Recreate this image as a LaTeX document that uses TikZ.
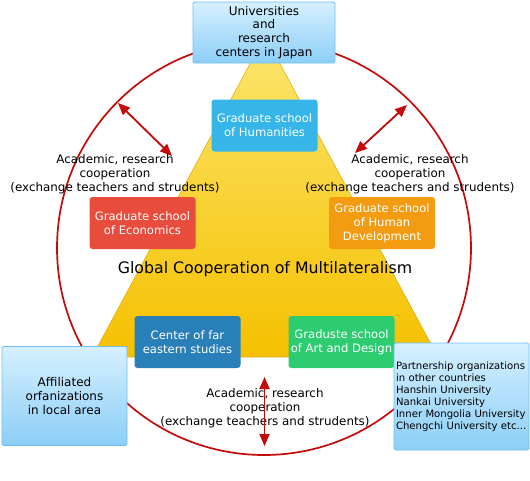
\documentclass[tikz,border=0pt]{standalone}
\usepackage{fontspec}
\setmainfont{DejaVu Sans}
\usetikzlibrary{arrows.meta}
\definecolor{ringred}{RGB}{196,10,10}
\definecolor{triTop}{RGB}{252,230,110}
\definecolor{triBot}{RGB}{245,192,0}
\definecolor{triLine}{RGB}{225,175,20}
\definecolor{boxTop}{RGB}{214,240,255}
\definecolor{boxBot}{RGB}{140,206,247}
\definecolor{boxLine}{RGB}{110,190,240}
\definecolor{cHum}{RGB}{54,181,232}
\definecolor{cEco}{RGB}{231,76,60}
\definecolor{cDev}{RGB}{243,156,18}
\definecolor{cFar}{RGB}{41,128,185}
\definecolor{cArt}{RGB}{46,204,113}
\tikzset{
  bluebox/.style={draw=boxLine, line width=0.8pt, top color=boxTop, bottom color=boxBot,
    rounded corners=1.5pt, font=\fontsize{12}{13.8}\selectfont, align=center, inner sep=2pt},
  school/.style={rounded corners=3pt, text=white, font=\fontsize{11.6}{14}\selectfont,
    align=center, minimum width=106pt, minimum height=52pt, inner sep=1pt},
  coop/.style={font=\fontsize{11.9}{14}\selectfont, align=center, inner sep=0pt},
  dbl/.style={ringred, line width=1.8pt, {Triangle[length=12pt,width=10pt]}-{Triangle[length=12pt,width=10pt]}}
}
\begin{document}
\begin{tikzpicture}[x=1pt,y=-1pt]
\useasboundingbox (0,0) rectangle (530,480);
% ring
\draw[ringred, line width=1.7pt] (264,248) circle (207);
% triangle
\shade[top color=triTop, bottom color=triBot, draw=triLine, line width=0.6pt]
  (265,36) -- (438,357) -- (92,357) -- cycle;
% title
\node[font=\fontsize{15.8}{18}\selectfont, inner sep=0pt] (title) at (265,269) {Global Cooperation of Multilateralism};
% schools
\node[school, fill=cHum] (hum) at (264.5,125.5) {Graduate school\\of Humanities};
\node[school, fill=cEco] (eco) at (142.5,223) {Graduate school\\of Economics};
\node[school, fill=cDev] (dev) at (382,223) {Graduate school\\of Human\\Development};
\node[school, fill=cFar] (far) at (187.5,342) {Center of far\\eastern studies};
\node[school, fill=cArt] (art) at (341.5,342) {Graduste school\\of Art and Design};
% outer boxes
\node[bluebox, minimum width=142pt, minimum height=61pt] (japan) at (264,32.5)
  {Universities\\and\\research\\centers in Japan};
\node[bluebox, minimum width=125pt, minimum height=99pt] (local) at (64.5,396)
  {Affiliated\\orfanizations\\in local area};
\node[bluebox, minimum width=135pt, minimum height=107pt, align=left,
  font=\fontsize{10.1}{11.9}\selectfont, text width=131pt] (partner) at (461.5,396.5)
  {Partnership organizations\\in other countries\\Hanshin University\\Nankai University\\Inner Mongolia University\\Chengchi University etc...};
% cooperation labels
\node[coop] (coopL) at (115,174) {Academic, research\\cooperation\\(exchange teachers and strudents)};
\node[coop] (coopR) at (410,174) {Academic, research\\cooperation\\(exchange teachers and strudents)};
\node[coop] (coopB) at (265,408) {Academic, research\\cooperation\\(exchange teachers and strudents)};
% arrows
\coordinate (aL1) at (118,103);
\coordinate (aL2) at (172,156);
\coordinate (aR1) at (407,105);
\coordinate (aR2) at (355,153);
\coordinate (aB1) at (264.5,377);
\coordinate (aB2) at (264.5,446);
\draw[dbl] (aL1) -- (aL2);
\draw[dbl] (aR1) -- (aR2);
\draw[dbl] (aB1) -- (aB2);
\end{tikzpicture}
\end{document}
